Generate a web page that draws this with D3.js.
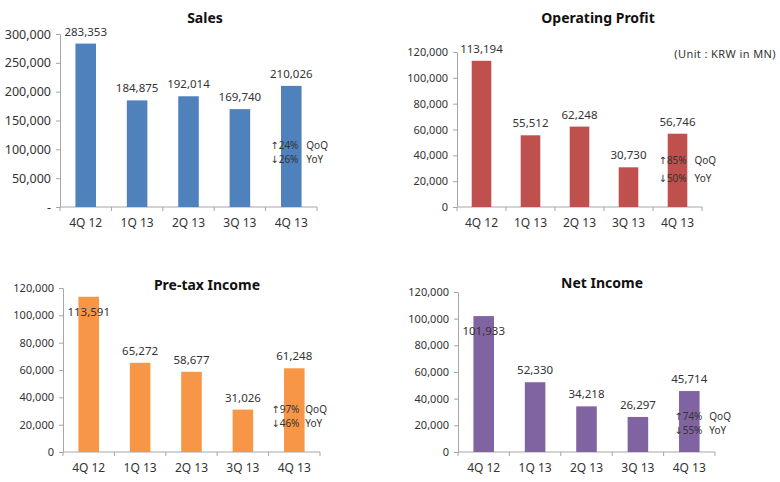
<!DOCTYPE html>
<html>
<head>
<meta charset="utf-8">
<script src="https://cdn.jsdelivr.net/npm/d3@7"></script>
<style>
  body { margin: 0; background: #fff; }
  svg text { font-family: "Noto Sans", "DejaVu Sans", sans-serif; fill: #333; }
  .title { font-weight: bold; font-size: 14px; fill: #111; }
  .domain, .tick line { stroke: #a6a6a6; }
</style>
</head>
<body>
<div id="chart"></div>
<script>
// quarters and values (KRW in MN)
var quarters = ["4Q 12", "1Q 13", "2Q 13", "3Q 13", "4Q 13"];
var sales = [283353, 184875, 192014, 169740, 210026];
var opProfit = [113194, 55512, 62248, 30730, 56746];
var preTax = [113591, 65272, 58677, 31026, 61248];
var netIncome = [101933, 52330, 34218, 26297, 45714];

var salesTicks = [0, 50000, 100000, 150000, 200000, 250000, 300000];
var profitTicks = [0, 20000, 40000, 60000, 80000, 100000, 120000];

var salesChange = ["\u219124%", "\u219326%"];
var opChange = ["\u219185%", "\u219350%"];
var preTaxChange = ["\u219197%", "\u219346%"];
var netChange = ["\u219174%", "\u219355%"];
var changeTags = ["QoQ", "YoY"];

var fmt = d3.format(",");

var panels = [
  {title: "Sales", values: sales, ticks: salesTicks, change: salesChange, color: "#4F81BD",
   left: 60, right: 317, top: 34, bottom: 207, titleX: 205, titleY: 23,
   zero: "-", tickSize: 12.5, inside: false, noteY: 149, noteGap: 13.5, noteDx: -21, tagDx: 15},
  {title: "Operating Profit", values: opProfit, ticks: profitTicks, change: opChange, color: "#C0504D",
   left: 457, right: 702, top: 52, bottom: 207, titleX: 598, titleY: 23,
   zero: "0", tickSize: 11, inside: false, noteY: 164, noteGap: 18, noteDx: -19, tagDx: 17},
  {title: "Pre-tax Income", values: preTax, ticks: profitTicks, change: preTaxChange, color: "#F79646",
   left: 63, right: 320, top: 288, bottom: 452, titleX: 207, titleY: 290,
   zero: "0", tickSize: 11, inside: true, noteY: 413, noteGap: 13.5, noteDx: -23, tagDx: 11},
  {title: "Net Income", values: netIncome, ticks: profitTicks, change: netChange, color: "#8064A2",
   left: 458, right: 715, top: 292, bottom: 452, titleX: 602, titleY: 288,
   zero: "0", tickSize: 11, inside: true, noteY: 420, noteGap: 13.5, noteDx: -15, tagDx: 20}
];

var svg = d3.select("#chart").append("svg")
    .attr("width", 780)
    .attr("height", 482);

panels.forEach(function(p) {
  var x = d3.scaleBand().domain(quarters).range([p.left, p.right]).paddingInner(0.6).paddingOuter(0.3);
  var y = d3.scaleLinear().domain([0, d3.max(p.ticks)]).range([p.bottom, p.top]);

  var g = svg.append("g");

  g.append("text")
    .attr("class", "title")
    .attr("x", p.titleX)
    .attr("y", p.titleY)
    .attr("text-anchor", "middle")
    .text(p.title);

  var yAxis = d3.axisLeft(y).tickValues(p.ticks).tickSize(4).tickSizeOuter(0)
      .tickFormat(function(d) { return d === 0 ? p.zero : fmt(d); });
  var ya = g.append("g")
    .attr("transform", "translate(" + p.left + ",0)")
    .call(yAxis);
  ya.selectAll("text").style("font-size", p.tickSize + "px").attr("x", -9);

  // x axis: ticks between categories, Excel style
  var edges = d3.range(quarters.length + 1).map(function(i) { return p.left + (p.right - p.left) * i / quarters.length; });
  g.append("line")
    .attr("x1", p.left).attr("x2", p.right)
    .attr("y1", p.bottom).attr("y2", p.bottom)
    .attr("stroke", "#a6a6a6");
  g.selectAll(".xt").data(edges).enter().append("line")
    .attr("x1", function(d) { return d; }).attr("x2", function(d) { return d; })
    .attr("y1", p.bottom).attr("y2", p.bottom + 4)
    .attr("stroke", "#a6a6a6");
  g.selectAll(".xl").data(quarters).enter().append("text")
    .attr("x", function(d) { return x(d) + x.bandwidth() / 2; })
    .attr("y", p.bottom + 20)
    .attr("text-anchor", "middle")
    .style("font-size", "12px")
    .text(function(d) { return d; });

  g.selectAll(".bar").data(p.values).enter().append("rect")
    .attr("x", function(d, i) { return x(quarters[i]); })
    .attr("y", function(d) { return y(d); })
    .attr("width", x.bandwidth())
    .attr("height", function(d) { return p.bottom - y(d); })
    .attr("fill", p.color);

  g.selectAll(".val").data(p.values).enter().append("text")
    .attr("x", function(d, i) { return x(quarters[i]) + x.bandwidth() / 2; })
    .attr("y", function(d, i) { return (p.inside && i === 0) ? y(d) + 19 : y(d) - 8; })
    .attr("text-anchor", "middle")
    .style("font-size", "11.5px")
    .text(function(d) { return fmt(d); });

  var lastC = x(quarters[quarters.length - 1]) + x.bandwidth() / 2;
  p.change.forEach(function(c, i) {
    g.append("text")
      .attr("x", lastC + p.noteDx)
      .attr("y", p.noteY + i * p.noteGap)
      .style("font-size", "10px")
      .text(c);
    g.append("text")
      .attr("x", lastC + p.tagDx)
      .attr("y", p.noteY + i * p.noteGap)
      .style("font-size", "10px")
      .text(changeTags[i]);
  });
});

svg.append("text")
  .attr("x", 776)
  .attr("y", 58)
  .attr("text-anchor", "end")
  .style("font-size", "11px")
  .style("letter-spacing", "0.4px")
  .text("(Unit : KRW in MN)");
</script>
</body>
</html>
